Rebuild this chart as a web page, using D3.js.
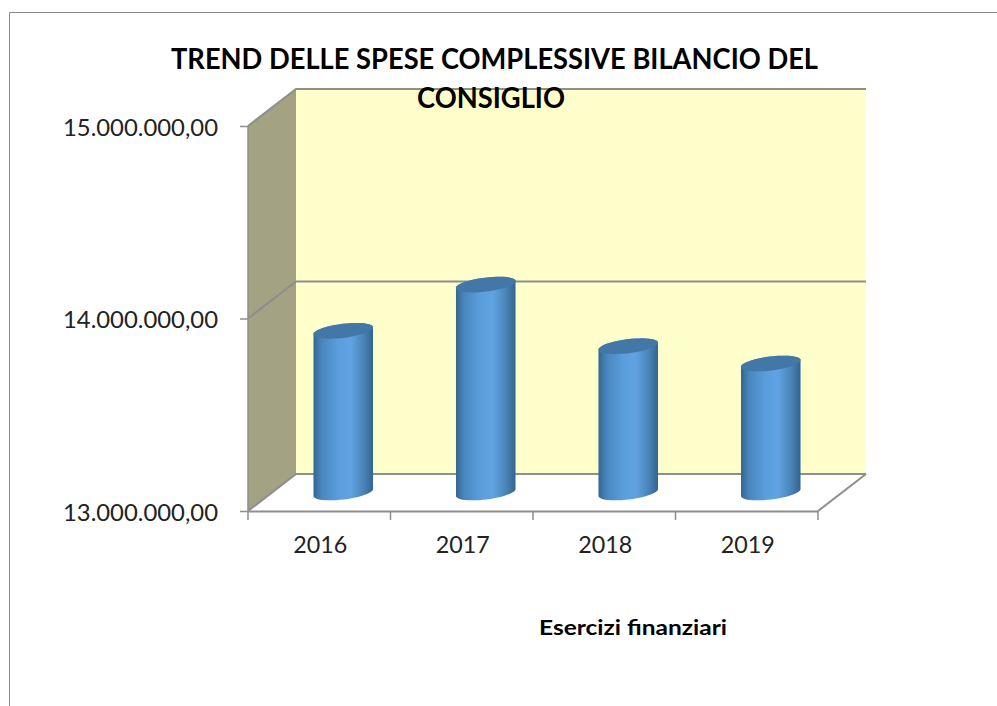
<!DOCTYPE html>
<html>
<head>
<meta charset="utf-8">
<script src="https://cdn.jsdelivr.net/npm/d3@7"></script>
<style>
  html, body { margin: 0; padding: 0; background: #fff; }
  svg { display: block; }
  text { font-family: Lato, "Open Sans", sans-serif; fill: #111; }
</style>
</head>
<body>
<div id="chart"></div>
<script>
let categories = ["2016", "2017", "2018", "2019"];
let spese = [13840000, 14080000, 13760000, 13670000];
let yTicks = [13000000, 14000000, 15000000];
let titleLines = ["TREND DELLE SPESE COMPLESSIVE BILANCIO DEL", "CONSIGLIO"];
let xTitle = "Esercizi finanziari";

let width = 997, height = 706;
let x0 = 248, x1 = 818;       // front edge of the floor
let depthX = 48, depthY = -37; // how far back the walls sit
let gridColor = "#8e8e8e";

let itLocale = d3.formatLocale({decimal: ",", thousands: ".", grouping: [3], currency: ["€", ""]});
let yFormat = itLocale.format(",.2f");

let x = d3.scaleBand().domain(categories).range([x0, x1]);
let y = d3.scaleLinear().domain([13000000, 15000000]).range([511, 126]);

let svg = d3.select("#chart").append("svg")
    .attr("width", width)
    .attr("height", height);

// gradient for the cylinder side
let grad = svg.append("defs").append("linearGradient")
    .attr("id", "cylSide")
    .attr("x1", "0%").attr("x2", "100%")
    .attr("y1", "0%").attr("y2", "0%");
grad.selectAll("stop")
    .data([[0, "#34668f"], [0.14, "#4a87bf"], [0.42, "#5a9edc"], [0.62, "#60a3e2"], [0.84, "#4a84b8"], [1, "#346490"]])
    .enter().append("stop")
    .attr("offset", d => d[0])
    .attr("stop-color", d => d[1]);

// outer chart frame, only top and left show
svg.append("path")
    .attr("d", `M9.5,${height}V12.5H${width}`)
    .attr("fill", "none")
    .attr("stroke", "#8a8a8a")
    .attr("stroke-width", 1);

let yFloor = y(13000000), yTop = y(15000000);

// back wall
svg.append("rect")
    .attr("x", x0 + depthX)
    .attr("y", yTop + depthY)
    .attr("width", x1 - x0)
    .attr("height", yFloor - yTop)
    .attr("fill", "#ffffcc");

// left wall
svg.append("path")
    .attr("d", `M${x0},${yFloor}L${x0 + depthX},${yFloor + depthY}V${yTop + depthY}L${x0},${yTop}Z`)
    .attr("fill", "#a3a384");

// gridlines running along the left wall and the back wall
svg.append("g").selectAll("path")
    .data(yTicks)
    .enter().append("path")
    .attr("d", d => `M${x0},${y(d)}L${x0 + depthX},${y(d) + depthY}H${x1 + depthX}`)
    .attr("fill", "none")
    .attr("stroke", gridColor)
    .attr("stroke-width", 2);

// floor edge on the right + left wall edge
svg.append("path")
    .attr("d", `M${x1},${yFloor}L${x1 + depthX},${yFloor + depthY}`)
    .attr("fill", "none")
    .attr("stroke", gridColor)
    .attr("stroke-width", 2);
svg.append("path")
    .attr("d", `M${x0},${yFloor}V${yTop}`)
    .attr("fill", "none")
    .attr("stroke", gridColor)
    .attr("stroke-width", 1.5);

// axes
let yAxis = svg.append("g")
    .attr("transform", `translate(${x0},0)`)
    .call(d3.axisLeft(y).tickValues(yTicks).tickFormat(yFormat).tickSize(8).tickSizeOuter(0));
let xAxis = svg.append("g")
    .attr("transform", `translate(0,${yFloor})`)
    .call(d3.axisBottom(x).tickSize(0).tickSizeOuter(0));

yAxis.select(".domain").remove();
yAxis.selectAll("line").attr("stroke", gridColor).attr("stroke-width", 1.5);
yAxis.selectAll("text")
    .attr("x", -30)
    .attr("dy", "0.4em")
    .style("font-size", "23px")
    .style("font-family", "Lato, sans-serif")
    .style("fill", "#222")
    .attr("textLength", 155)
    .attr("lengthAdjust", "spacingAndGlyphs");

xAxis.select(".domain").attr("stroke", gridColor).attr("stroke-width", 2);
xAxis.selectAll("text")
    .attr("x", 1)
    .attr("y", 42)
    .attr("dy", "0")
    .style("font-size", "23px")
    .style("font-family", "Lato, sans-serif")
    .style("fill", "#222")
    .attr("textLength", 54)
    .attr("lengthAdjust", "spacingAndGlyphs");

// x ticks sit on the band edges, not the centres
svg.append("g").selectAll("line")
    .data(categories.map(d => x(d)).concat([x1]))
    .enter().append("line")
    .attr("x1", d => d).attr("x2", d => d)
    .attr("y1", yFloor).attr("y2", yFloor + 9)
    .attr("stroke", gridColor)
    .attr("stroke-width", 1.5);

// cylinders, standing half way into the depth
let rx = 30, ry = 7, tilt = 7 * Math.PI / 180;
let rimLine = d3.line();

// point on the tilted rim ellipse, t measured on screen (sin t > 0 is the lower side)
function rimPoint(t, cy) {
    let ex = rx * Math.cos(t), ey = ry * Math.sin(t);
    return [ex * Math.cos(tilt) + ey * Math.sin(tilt), cy - ex * Math.sin(tilt) + ey * Math.cos(tilt)];
}
let angles = d3.range(0, 25).map(i => i / 24 * Math.PI);

let bars = svg.append("g").selectAll("g")
    .data(categories.map((c, i) => ({cat: c, val: spese[i]})))
    .enter().append("g")
    .attr("transform", d => `translate(${x(d.cat) + x.bandwidth() / 2 + depthX / 2},0)`);

bars.append("path")
    .attr("d", d => {
        let top = y(d.val) + depthY / 2;
        let bot = yFloor + depthY / 2;
        // lower rim left to right, then straight back up over the top
        let lower = angles.slice().reverse().map(t => rimPoint(t, bot));
        let upper = angles.map(t => rimPoint(-t, top));
        return rimLine(lower.concat(upper)) + "Z";
    })
    .attr("fill", "url(#cylSide)");

bars.append("path")
    .attr("d", d => {
        let top = y(d.val) + depthY / 2;
        return rimLine(d3.range(0, 49).map(i => rimPoint(i / 48 * 2 * Math.PI, top))) + "Z";
    })
    .attr("fill", "#4277a7");

// title, second line overlaps the wall just like the original
svg.append("text")
    .attr("x", 171).attr("y", 69)
    .attr("textLength", 647)
    .attr("lengthAdjust", "spacingAndGlyphs")
    .style("font-size", "29px")
    .style("font-weight", 700)
    .style("fill", "#000")
    .text(titleLines[0]);
svg.append("text")
    .attr("x", 417).attr("y", 108)
    .attr("textLength", 148)
    .attr("lengthAdjust", "spacingAndGlyphs")
    .style("font-size", "29px")
    .style("font-weight", 700)
    .style("fill", "#000")
    .text(titleLines[1]);

svg.append("text")
    .attr("x", 539).attr("y", 635)
    .attr("textLength", 188)
    .attr("lengthAdjust", "spacingAndGlyphs")
    .style("font-size", "21px")
    .style("font-weight", 700)
    .style("fill", "#000")
    .text(xTitle);
</script>
</body>
</html>
